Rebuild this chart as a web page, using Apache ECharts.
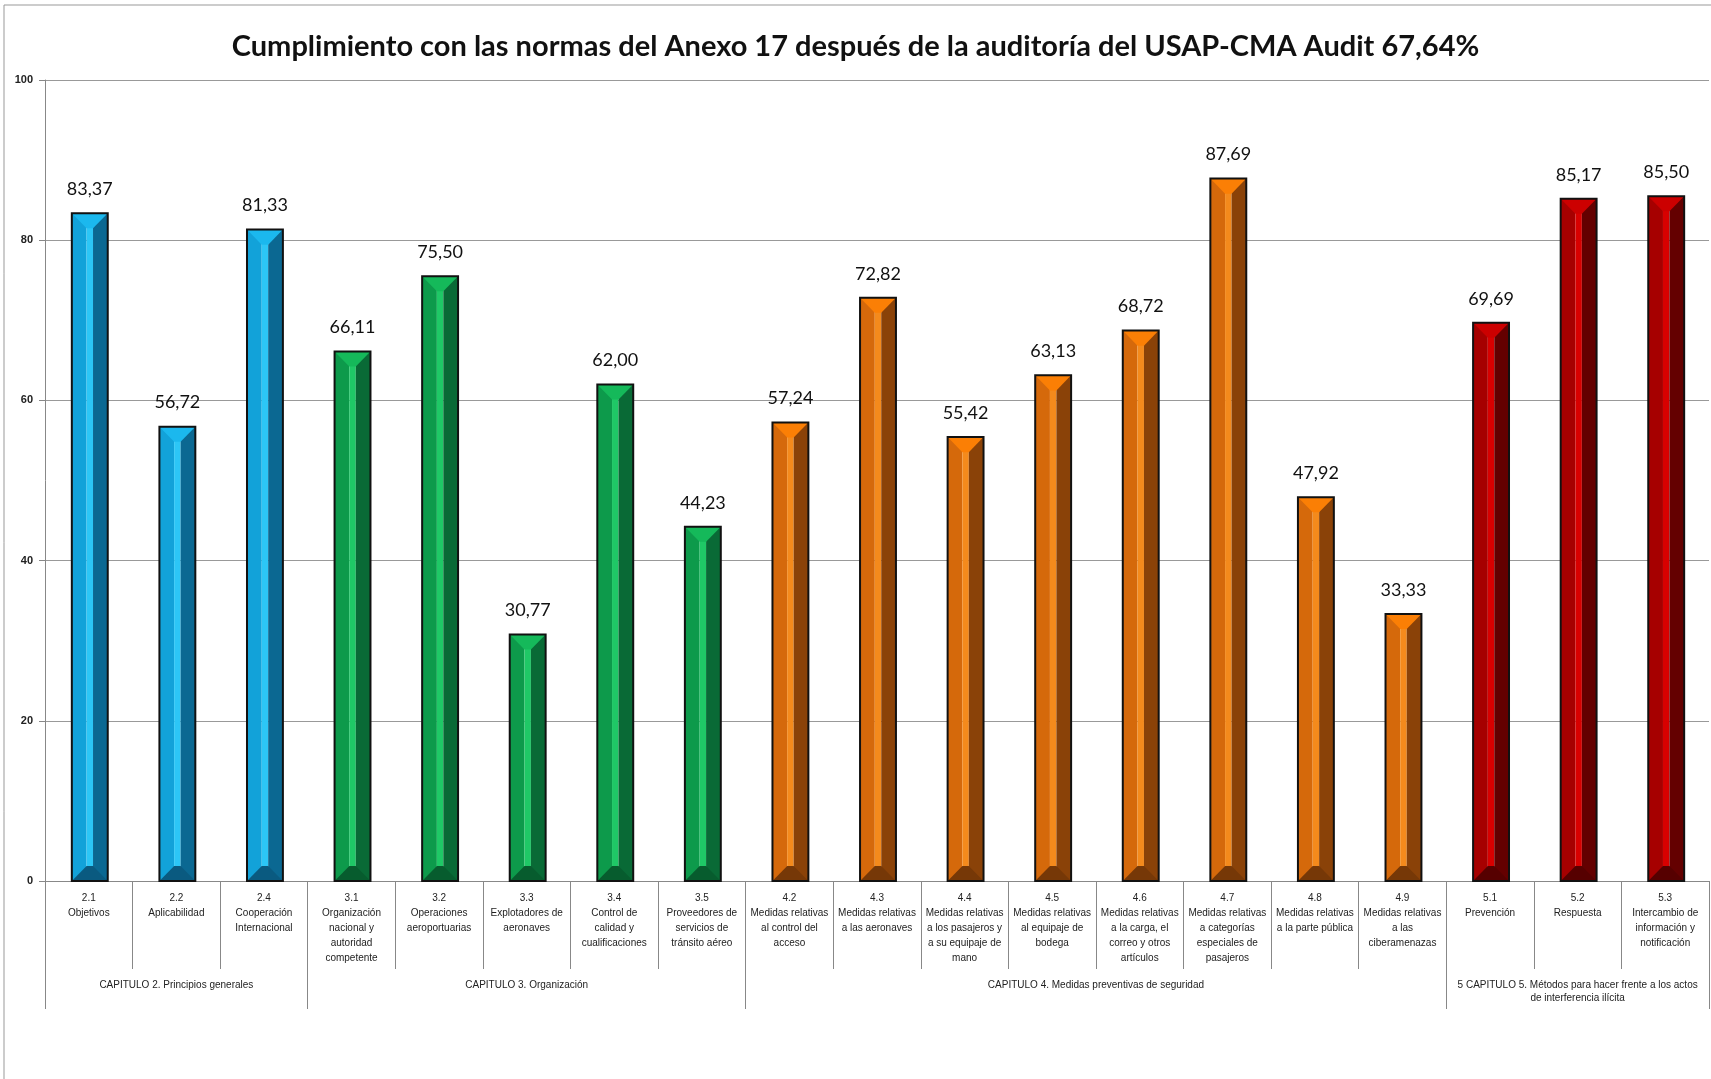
<!DOCTYPE html>
<html><head><meta charset="utf-8">
<script src="https://cdn.jsdelivr.net/npm/echarts@6/dist/echarts.min.js"></script>
<style>html,body{margin:0;padding:0;background:#fff;}#c{width:1711px;height:1079px;}</style>
</head><body><div id="c"></div>
<script>
const titleText = 'Cumplimiento con las normas del Anexo 17 después de la auditoría del USAP-CMA Audit 67,64%';
const categories = [
 '2.1\nObjetivos','2.2\nAplicabilidad','2.4\nCooperación\nInternacional',
 '3.1\nOrganización\nnacional y\nautoridad\ncompetente','3.2\nOperaciones\naeroportuarias','3.3\nExplotadores de\naeronaves','3.4\nControl de\ncalidad y\ncualificaciones','3.5\nProveedores de\nservicios de\ntránsito aéreo',
 '4.2\nMedidas relativas\nal control del\nacceso','4.3\nMedidas relativas\na las aeronaves','4.4\nMedidas relativas\na los pasajeros y\na su equipaje de\nmano','4.5\nMedidas relativas\nal equipaje de\nbodega','4.6\nMedidas relativas\na la carga, el\ncorreo y otros\nartículos','4.7\nMedidas relativas\na categorías\nespeciales de\npasajeros','4.8\nMedidas relativas\na la parte pública','4.9\nMedidas relativas\na las\nciberamenazas',
 '5.1\nPrevención','5.2\nRespuesta','5.3\nIntercambio de\ninformación y\nnotificación'
];
const values = [83.37,56.72,81.33, 66.11,75.50,30.77,62.00,44.23, 57.24,72.82,55.42,63.13,68.72,87.69,47.92,33.33, 69.69,85.17,85.50];
const chapterNames = ['CAPITULO 2. Principios generales','CAPITULO 3. Organización','CAPITULO 4. Medidas preventivas de seguridad','5 CAPITULO 5. Métodos para hacer frente a los actos\nde interferencia ilícita'];
const chapterSizes = [3,5,8,3];
const yTicks = [0,20,40,60,80,100];

const palettes = [
 {left:'#12a2d9', mid:'#2cc6f6', right:'#0b6892', top:'#1bb8ee', bot:'#0a5a80'},
 {left:'#0d9a4b', mid:'#1fc866', right:'#096a36', top:'#15b95a', bot:'#075c2e'},
 {left:'#d5690b', mid:'#f48a1c', right:'#8a4208', top:'#fb7f05', bot:'#763807'},
 {left:'#a60000', mid:'#d80000', right:'#640000', top:'#cc0000', bot:'#560000'}
];
const groupOf = [];
chapterSizes.forEach((n,g)=>{for(let i=0;i<n;i++) groupOf.push(g);});
const bounds=[0]; chapterSizes.forEach(n=>bounds.push(bounds[bounds.length-1]+n));
const centers = chapterSizes.map((n,i)=>bounds[i]+n/2);

const chart = echarts.init(document.getElementById('c'));
const fontT = 'Lato, "Open Sans", sans-serif';
const fontA = '"Liberation Sans", Arial, sans-serif';

function renderBar(params, api){
  const i = params.dataIndex;
  const v = api.value(1);
  const top = api.coord([api.value(0), v]);
  const base = api.coord([api.value(0), 0]);
  const bw = api.size([1,0])[0]*0.41;
  const xc = top[0]+1, x0 = xc-bw/2, x1 = xc+bw/2, yT = top[1], yB = base[1];
  const p = palettes[groupOf[i]];
  const cs = bw*0.18;
  const d = Math.min(bw*0.42, (yB-yT)/2);
  const children = [
    {type:'rect', shape:{x:x0,y:yT,width:xc-cs/2-x0,height:yB-yT}, style:{fill:p.left}},
    {type:'rect', shape:{x:xc-cs/2,y:yT,width:cs,height:yB-yT}, style:{fill:p.mid}},
    {type:'rect', shape:{x:xc+cs/2,y:yT,width:x1-xc-cs/2,height:yB-yT}, style:{fill:p.right}},
    {type:'polygon', shape:{points:[[x0,yT],[x1,yT],[xc+cs/2,yT+d],[xc-cs/2,yT+d]]}, style:{fill:p.top}},
    {type:'polygon', shape:{points:[[x0,yB],[xc-cs/2,yB-d],[xc+cs/2,yB-d],[x1,yB]]}, style:{fill:p.bot}},
    {type:'rect', shape:{x:x0,y:yT,width:bw,height:yB-yT}, style:{fill:null, stroke:'#111', lineWidth:2}},
    {type:'text', style:{text:v.toFixed(2).replace('.',','), x:xc, y:yT-15, align:'center', verticalAlign:'bottom', fill:'#111', font:'18px '+fontT}}
  ];
  return {type:'group', children};
}

chart.setOption({
  animation:false,
  title:{text:titleText, left:'center', top:27, textStyle:{fontFamily:fontT, fontWeight:'bold', fontSize:29, color:'#111'}},
  graphic:[{type:'rect', shape:{x:4,y:5,width:1720,height:1100}, style:{fill:null, stroke:'#999', lineWidth:1}, silent:true}],
  grid:{left:45, right:2, top:80, bottom:198, containLabel:false},
  xAxis:[
    {type:'category', data:categories, boundaryGap:true,
     axisLine:{show:true, lineStyle:{color:'#888'}},
     axisTick:{show:true, interval:0, length:88, lineStyle:{color:'#888'}},
     axisLabel:{interval:0, margin:10, fontFamily:fontA, fontSize:10, lineHeight:15, color:'#222', verticalAlign:'top'}},
    {type:'value', min:0, max:categories.length, position:'bottom',
     axisLine:{show:false}, splitLine:{show:false},
     axisTick:{show:true, customValues:bounds, length:128, lineStyle:{color:'#888'}},
     axisLabel:{customValues:centers, margin:98, fontFamily:fontA, fontSize:10, lineHeight:13, color:'#222', verticalAlign:'top',
       formatter:(val)=>{const k=centers.findIndex(c=>Math.abs(c-val)<1e-6); return k>=0?chapterNames[k]:'';}}}
  ],
  yAxis:{type:'value', min:0, max:100, interval:20,
    axisLine:{show:true, lineStyle:{color:'#888'}},
    axisTick:{show:true, length:6, lineStyle:{color:'#888'}},
    splitLine:{show:true, lineStyle:{color:'#999', width:1}},
    axisLabel:{margin:12, fontFamily:fontA, fontSize:11, fontWeight:'bold', color:'#222', customValues:yTicks}},
  series:[{type:'custom', xAxisIndex:0, renderItem:renderBar,
    data:values.map((v,i)=>[i,v]), encode:{x:0,y:1}, clip:false}]
});
</script></body></html>
